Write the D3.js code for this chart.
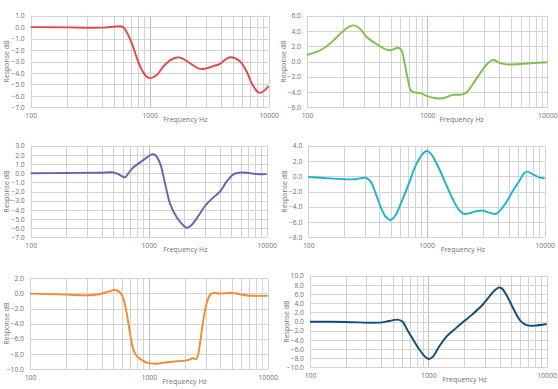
<!DOCTYPE html>
<html><head><meta charset="utf-8">
<script src="https://cdn.jsdelivr.net/npm/d3@7"></script>
<style>
html,body{margin:0;padding:0;background:#fff;}
svg{display:block;}
text{font-family:"Open Sans","Liberation Sans",sans-serif;fill:#707070;}
</style></head>
<body>
<svg id="chart" width="558" height="389"></svg>
<script>
// ---- data ----
const xTickLabels = [100, 1000, 10000];
const xTitle = "Frequency Hz";
const yTitle = "Response dB";

const freqRed = [100,200,300,400,495,545,600,707,780,855,940,1020,1140,1300,1480,1690,1860,2180,2560,2810,3430,3900,4440,4800,5750,6540,7200,8170,8730,10000];
const dbRed   = [0,-0.02,-0.05,-0.04,0.04,0.08,0,-1.4,-2.7,-3.7,-4.3,-4.45,-4.2,-3.45,-2.9,-2.65,-2.7,-3.15,-3.6,-3.65,-3.4,-3.2,-2.75,-2.63,-3.0,-3.9,-4.9,-5.7,-5.7,-5.15];

const freqGreen = [100,134,162,197,224,246,280,312,378,457,503,571,610,650,692,738,813,894,984,1191,1350,1640,1924,2118,2405,2735,3100,3420,3635,3890,4570,5900,7600,10000];
const dbGreen   = [0.85,1.6,2.6,3.9,4.56,4.73,4.2,3.25,2.3,1.55,1.5,1.8,1.5,-0.24,-2.4,-3.86,-4.08,-4.17,-4.5,-4.82,-4.82,-4.38,-4.34,-4.08,-2.94,-1.63,-0.46,0.11,0.2,-0.1,-0.37,-0.33,-0.2,-0.1];

const freqPurple = [100,200,387,502,571,630,673,742,845,961,1060,1132,1248,1375,1515,1726,1966,2099,2312,2633,3000,3530,4025,4575,5210,5750,6770,8220,10000];
const dbPurple   = [0,0.02,0.05,0.08,-0.2,-0.45,0,0.64,1.18,1.7,2.05,2.0,1.07,-1.1,-3.3,-4.8,-5.7,-5.95,-5.65,-4.67,-3.58,-2.64,-2.0,-0.93,-0.13,0.05,0.05,-0.1,-0.1];

const freqCyan = [100,150,207,251,306,337,371,409,451,497,549,624,711,809,922,1000,1084,1235,1452,1655,1884,2077,2290,2607,2968,3380,3848,4105,4673,5320,6063,6682,7130,7868,8955,10000];
const dbCyan   = [-0.1,-0.28,-0.4,-0.4,-0.2,-0.7,-2.24,-3.98,-5.3,-5.73,-5.07,-3.1,-0.93,1.38,2.87,3.3,3.0,1.47,-0.93,-2.89,-4.42,-4.94,-4.86,-4.6,-4.5,-4.77,-4.94,-4.64,-3.55,-2.02,-0.7,0.38,0.6,0.29,-0.14,-0.28];

const freqOrange = [100,204,300,388,456,519,572,610,651,694,741,790,871,959,1164,1413,1715,2015,2220,2338,2494,2592,2693,2874,3068,3274,3494,3980,4980,5850,7100,10000];
const dbOrange   = [-0.03,-0.16,-0.25,-0.07,0.24,0.46,0.15,-0.65,-2.63,-5.28,-7.4,-8.28,-8.8,-9.16,-9.3,-9.1,-8.98,-8.9,-8.72,-8.55,-8.72,-8.15,-6.6,-3.5,-1.3,-0.2,0.06,-0.03,0.06,-0.12,-0.3,-0.3];

const freqNavy = [100,200,383,465,547,603,665,733,834,949,1013,1095,1230,1400,1702,2000,2354,2860,3258,3590,3908,4170,4657,5300,6030,6870,7820,10000];
const dbNavy   = [-0.04,-0.1,-0.25,0.1,0.4,0,-1.85,-3.67,-6.0,-7.8,-8.2,-7.67,-5.5,-3.5,-1.5,0.04,1.56,3.6,5.4,6.65,7.4,7.24,5.4,2.5,0.1,-0.84,-0.9,-0.55];

const yTicks1 = [1,0,-1,-2,-3,-4,-5,-6,-7];
const yTicks2 = [6,4,2,0,-2,-4,-6];
const yTicks3 = [3,2,1,0,-1,-2,-3,-4,-5,-6,-7];
const yTicks4 = [4,2,0,-2,-4,-6,-8];
const yTicks5 = [2,0,-2,-4,-6,-8,-10];
const yTicks6 = [10,8,6,4,2,0,-2,-4,-6,-8,-10];

// ---- layout ----
const panels = [
  {freq:freqRed, db:dbRed, ticks:yTicks1, color:"#E5484B", box:[30.7,268.7,15.7,107.3]},
  {freq:freqGreen, db:dbGreen, ticks:yTicks2, color:"#7DC04A", box:[307,547.3,15.7,107.3]},
  {freq:freqPurple, db:dbPurple, ticks:yTicks3, color:"#7A5AA8", box:[30.7,266.7,145.7,237.3]},
  {freq:freqCyan, db:dbCyan, ticks:yTicks4, color:"#19B4CA", box:[308.3,544.7,145.7,237.3]},
  {freq:freqOrange, db:dbOrange, ticks:yTicks5, color:"#F5892F", box:[30,267.7,278.3,369]},
  {freq:freqNavy, db:dbNavy, ticks:yTicks6, color:"#124B78", box:[310,546.7,275.7,367.3]}
];

const svg = d3.select("#chart");
const gridMinor = [];
for (let d = 100; d < 10000; d *= 10) for (let k = 1; k <= 10; k++) gridMinor.push(d*k);

panels.forEach(p => {
  const [l, r, t, b] = p.box;
  const x = d3.scaleLog().domain([100, 10000]).range([l, r]);
  const y = d3.scaleLinear().domain([d3.min(p.ticks), d3.max(p.ticks)]).range([b, t]);
  const g = svg.append("g");

  g.selectAll("line.v").data(Array.from(new Set(gridMinor))).enter().append("line")
    .attr("x1", d => Math.round(x(d)) + 0.5).attr("x2", d => Math.round(x(d)) + 0.5)
    .attr("y1", t).attr("y2", b)
    .attr("stroke", d => d === 1000 ? "#bdbdbd" : "#d3d3d3").attr("stroke-width", 1);
  g.selectAll("line.h").data(p.ticks).enter().append("line")
    .attr("x1", l).attr("x2", r)
    .attr("y1", d => Math.round(y(d)) + 0.5).attr("y2", d => Math.round(y(d)) + 0.5)
    .attr("stroke", "#d3d3d3").attr("stroke-width", 1);

  const yAxis = d3.axisLeft(y).tickValues(p.ticks).tickFormat(d3.format(".1f")).tickSize(0).tickPadding(6);
  const ya = g.append("g").attr("transform", `translate(${l},0)`).call(yAxis);
  ya.select(".domain").remove();
  ya.selectAll("text").style("font-size", "6.8px").attr("fill", "#707070");

  const xAxis = d3.axisBottom(x).tickValues(xTickLabels).tickFormat(d3.format("d")).tickSize(0).tickPadding(6);
  const xa = g.append("g").attr("transform", `translate(0,${b})`).call(xAxis);
  xa.select(".domain").remove();
  xa.selectAll("text").style("font-size", "6.8px").attr("fill", "#707070");

  g.append("text").attr("x", l + 132.5).attr("y", b + 14.5)
    .style("font-size", "7px").attr("fill", "#707070").text(xTitle);
  g.append("text").attr("transform", `translate(${l - 21.5},${(t + b) / 2}) rotate(-90)`)
    .attr("text-anchor", "middle").style("font-size", "7px").attr("fill", "#707070").text(yTitle);

  const pts = p.freq.map((f, i) => [f, p.db[i]]);
  const line = d3.line().x(d => x(d[0])).y(d => y(d[1])).curve(d3.curveCatmullRom.alpha(0.5));
  g.append("path").attr("d", line(pts)).attr("fill", "none")
    .attr("stroke", p.color).attr("stroke-width", 1.9).attr("stroke-linejoin", "round");
});
</script>
</body></html>
